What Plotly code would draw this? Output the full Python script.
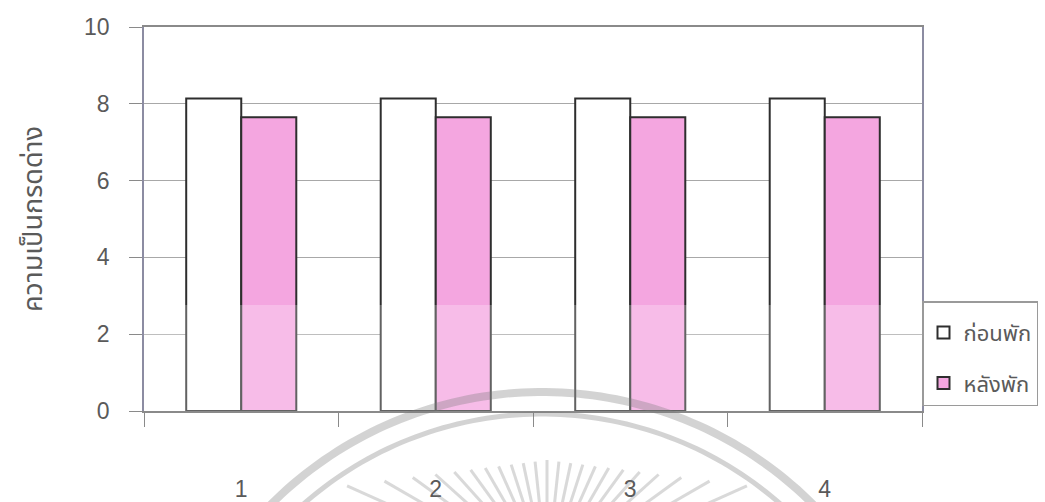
import numpy as np
import plotly.graph_objects as go

# Data
categories = ["1", "2", "3", "4"]
before_rest = [8.14, 8.14, 8.14, 8.14]   # ก่อนพัก
after_rest = [7.65, 7.65, 7.65, 7.65]    # หลังพัก
y_ticks = [0, 2, 4, 6, 8, 10]
series_names = ["ก่อนพัก", "หลังพัก"]
y_title = "ความเป็นกรดด่าง"

W, H = 1045, 502
ML, MR, MT, MB = 144, 123, 27, 91
PW, PH = W - ML - MR, H - MT - MB

FONT = "Liberation Sans, Arial, Noto Sans Thai, Tahoma, sans-serif"
TXT = "#5a5a5a"

fig = go.Figure()
fig.add_trace(go.Bar(
    x=categories, y=before_rest, name=series_names[0], legendgroup="a",
    marker=dict(color="white", line=dict(color="#2e2e2e", width=2)),
))
fig.add_trace(go.Bar(
    x=categories, y=after_rest, name=series_names[1], legendgroup="b",
    marker=dict(color="#f4a6e0", line=dict(color="#2e2e2e", width=2)),
))


def px_to_paper(px, py):
    return (px - ML) / PW, (MT + PH - py) / PH


def arc_path(cx, cy, r, a0, a1, n=120):
    pts = []
    for a in np.linspace(a0, a1, n):
        x, y = px_to_paper(cx + r * np.cos(a), cy - r * np.sin(a))
        pts.append(f"{x:.5f},{y:.5f}")
    return "M" + " L".join(pts)


shapes = []
# faded lower band on the bars
shapes.append(dict(type="rect", xref="paper", yref="y", x0=0, x1=1, y0=0, y1=2.76,
                   fillcolor="rgba(255,255,255,0.25)", line=dict(width=0), layer="above"))
# background seal: two rings and a fan of rays
seal_c = (542, 775)
shapes.append(dict(type="path", xref="paper", yref="paper",
                   path=arc_path(*seal_c, 383, np.radians(20), np.radians(160)),
                   line=dict(color="rgba(120,120,120,0.33)", width=8), layer="above"))
shapes.append(dict(type="path", xref="paper", yref="paper",
                   path=arc_path(*seal_c, 361, np.radians(20), np.radians(160)),
                   line=dict(color="rgba(120,120,120,0.33)", width=5), layer="above"))
ray_c = np.array([547.0, 575.0])
for deg in np.arange(-66, 67, 6):
    a = np.radians(90 + deg)
    d = np.array([np.cos(a), -np.sin(a)])
    # outer end of each ray sits on a shallow line across the seal
    r_out = 113.0
    for _ in range(20):
        p = ray_c + r_out * d
        r_out = (ray_c[1] - (460 + 0.13 * abs(p[0] - ray_c[0]))) / np.sin(a)
    p_out = ray_c + r_out * d
    p_in = ray_c + 30 * d
    x0, y0 = px_to_paper(*p_out)
    x1, y1 = px_to_paper(*p_in)
    shapes.append(dict(type="line", xref="paper", yref="paper", x0=x0, y0=y0, x1=x1, y1=y1,
                       line=dict(color="rgba(120,120,120,0.28)", width=3), layer="above"))

fig.update_layout(
    width=W, height=H,
    margin=dict(l=ML, r=MR, t=MT, b=MB, autoexpand=False),
    paper_bgcolor="white", plot_bgcolor="white",
    barmode="group", bargap=0.434, bargroupgap=0,
    font=dict(family=FONT, color=TXT),
    showlegend=True,
    legend=dict(
        x=1.0, y=(MT + PH - 301) / PH, xanchor="left", yanchor="top",
        bgcolor="white", bordercolor="#9a9a9a", borderwidth=1.5,
        font=dict(size=22, color=TXT, family=FONT),
        title=dict(text=" ", font=dict(size=7)),
        traceorder="grouped", tracegroupgap=19,
        entrywidth=130, entrywidthmode="pixels",
    ),
    shapes=shapes,
)

fig.update_xaxes(
    type="category", tickson="boundaries", ticks="outside", ticklen=14,
    tickcolor="#8a8a8a", tickwidth=1.2,
    showline=True, linecolor="#8a8a8a", linewidth=1.5, mirror=True,
    showgrid=False, tickfont=dict(size=23, color=TXT),
    ticklabelstandoff=57,
)
fig.update_yaxes(
    range=[0, 10], tickvals=y_ticks, ticks="outside", ticklen=13,
    tickcolor="#8a8a8a", tickwidth=1.2,
    showline=True, linecolor="#8c8ca2", linewidth=1.5, mirror=True,
    showgrid=True, gridcolor="#a8a8a8", gridwidth=1.2,
    tickfont=dict(size=23, color=TXT), ticklabelstandoff=15,
    title=dict(text=y_title, font=dict(size=27, color=TXT, family=FONT), standoff=34),
    zeroline=False,
)

fig.write_html("out.html")
